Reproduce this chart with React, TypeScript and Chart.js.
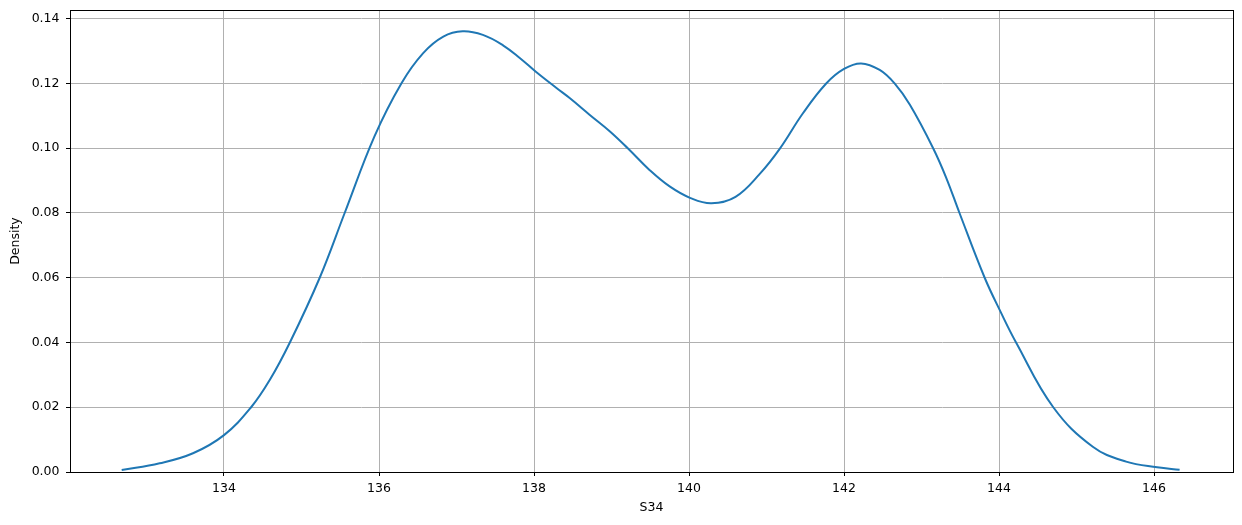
import React, { useEffect, useRef } from "react";
import { Chart, registerables } from "chart.js";

Chart.register(...registerables);

const xValues = [
  132.68, 133.17, 133.6, 134.0, 134.35, 134.59, 134.85, 135.235, 135.557,
  135.94, 136.29, 136.57, 136.83, 137.08, 137.34, 137.6, 137.82, 138.02, 138.29,
  138.46, 138.72, 138.98, 139.21, 139.49, 139.75, 140.02, 140.29, 140.6, 140.91,
  141.17, 141.47, 141.77, 142.0, 142.22, 142.46, 142.65, 142.85, 143.15, 143.32,
  143.49, 143.815, 144.03, 144.22, 144.7, 145.21, 145.64, 146.04, 146.33,
];
const densityValues = [
  0.0006, 0.0027, 0.0058, 0.0114, 0.02, 0.0284, 0.04, 0.06, 0.08,
  0.1036, 0.1201, 0.1294, 0.1345, 0.1361, 0.135, 0.1318, 0.1278, 0.1237, 0.1186,
  0.1155, 0.1103, 0.1052, 0.1, 0.0933, 0.0882, 0.0846, 0.083, 0.085, 0.092,
  0.0998, 0.1108, 0.12, 0.1245, 0.1262, 0.1242, 0.1201, 0.1134, 0.1, 0.0908,
  0.08, 0.06, 0.049, 0.04, 0.02, 0.0078, 0.0032, 0.00145, 0.0007,
];
const xTicks = [134, 136, 138, 140, 142, 144, 146];
const yTicks = [0, 0.02, 0.04, 0.06, 0.08, 0.1, 0.12, 0.14];
const xLabel = "S34";
const yLabel = "Density";

const FONT = "'DejaVu Sans', sans-serif";

export default function App() {
  const ref = useRef<HTMLCanvasElement | null>(null);
  useEffect(() => {
    document.body.style.margin = "0";
    const canvas = ref.current;
    if (!canvas) return;
    const frame = {
      id: "frame",
      afterDraw(chart: any) {
        const { ctx, chartArea } = chart;
        ctx.save();
        ctx.strokeStyle = "#000";
        ctx.lineWidth = 1;
        ctx.strokeRect(
          Math.round(chartArea.left) + 0.5,
          Math.round(chartArea.top) + 0.5,
          Math.round(chartArea.right - chartArea.left),
          Math.round(chartArea.bottom - chartArea.top)
        );
        ctx.restore();
      },
    };
    const chart = new Chart(canvas, {
      type: "line",
      data: {
        datasets: [
          {
            data: xValues.map((x, i) => ({ x, y: densityValues[i] })),
            borderColor: "#1f77b4",
            borderWidth: 2,
            pointRadius: 0,
            fill: false,
            tension: 0.4,
          },
        ],
      },
      options: {
        animation: false,
        responsive: false,
        devicePixelRatio: 1,
        layout: { padding: { left: 0, right: 9, top: 10, bottom: 0 } },
        plugins: { legend: { display: false }, tooltip: { enabled: false } },
        scales: {
          x: {
            type: "linear",
            min: 132.013,
            max: 147.019,
            afterBuildTicks: (s: any) => {
              s.ticks = xTicks.map((v) => ({ value: v }));
            },
            afterFit: (s: any) => {
              s.height = 53;
              s.paddingLeft = 0;
              s.paddingRight = 0;
            },
            grid: {
              color: "#b0b0b0",
              lineWidth: 1,
              tickColor: "#000",
              tickLength: 4,
              drawTicks: true,
            },
            border: { display: true, color: "#000", width: 1 },
            ticks: {
              color: "#000",
              padding: 5,
              maxRotation: 0,
              autoSkip: false,
              font: { family: FONT, size: 12.5 },
              callback: (v: any) => String(v),
            },
            title: {
              display: true,
              text: xLabel,
              color: "#000",
              font: { family: FONT, size: 12.5 },
              padding: { top: 0, bottom: 10 },
            },
          },
          y: {
            type: "linear",
            min: 0,
            max: 0.1427,
            afterBuildTicks: (s: any) => {
              s.ticks = yTicks.map((v) => ({ value: v }));
            },
            afterFit: (s: any) => {
              s.width = 70;
              s.paddingTop = 0;
              s.paddingBottom = 0;
            },
            grid: {
              color: "#b0b0b0",
              lineWidth: 1,
              tickColor: "#000",
              tickLength: 4,
              drawTicks: true,
            },
            border: { display: true, color: "#000", width: 1 },
            ticks: {
              color: "#000",
              padding: 6.5,
              autoSkip: false,
              font: { family: FONT, size: 12.5 },
              callback: (v: any) => Number(v).toFixed(2),
            },
            title: {
              display: true,
              text: yLabel,
              color: "#000",
              font: { family: FONT, size: 12.5 },
              padding: { top: 8, bottom: 0 },
            },
          },
        },
      },
      plugins: [frame],
    });
    return () => chart.destroy();
  }, []);
  return (
    <div style={{ position: "fixed", left: 0, top: 0, width: 1242, height: 525, background: "#fff" }}>
      <canvas ref={ref} width={1242} height={525} />
    </div>
  );
}
